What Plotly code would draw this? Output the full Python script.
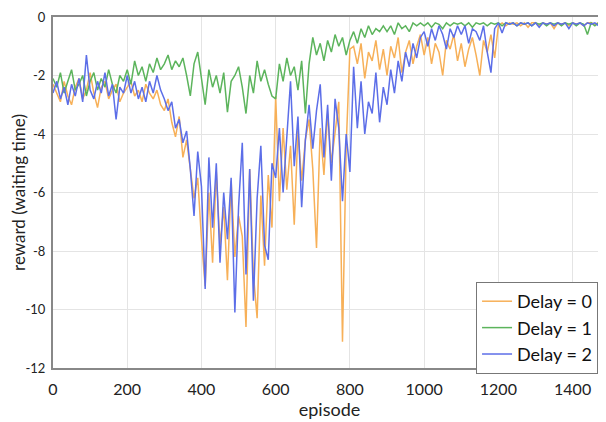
import plotly.graph_objects as go

episodes = list(range(0, 1500, 10))

delay0 = [
    -2.3, -2.6, -2.9, -2.2, -2.7, -3.0, -2.4, -2.1, -2.8, -2.5,
    -1.9, -2.6, -3.1, -2.4, -2.2, -2.8, -2.5, -2.3, -2.9, -2.6,
    -2.4, -2.2, -2.7, -2.5, -2.9, -2.3, -2.6, -2.8, -2.5, -3.0,
    -3.2, -2.8, -3.6, -4.1, -3.4, -4.8, -4.2, -5.3, -6.2, -5.5,
    -7.6, -9.2, -6.0, -8.4, -5.3, -7.8, -6.5, -9.0, -5.6, -8.2,
    -6.8, -7.5, -10.6, -5.2, -8.8, -10.3, -6.1, -8.5, -5.4, -7.2,
    -2.7, -6.3, -3.8, -5.9, -4.4, -7.1, -3.9, -5.6, -4.2, -3.5,
    -5.2, -7.9, -3.8, -5.4, -3.3, -5.0, -3.9, -2.9, -11.1, -4.4,
    -1.1, -1.0, -1.6, -0.9, -2.1, -1.2, -1.5, -0.8, -1.8, -1.1,
    -2.0, -1.0, -1.4, -0.7, -1.9, -1.2, -0.8, -1.6, -1.0, -0.6,
    -1.3, -0.7, -1.6, -0.9, -1.2, -2.0, -0.8, -1.1, -0.6, -1.5,
    -0.9, -1.7, -1.1, -0.7, -1.3, -2.0, -0.8, -1.2, -0.6, -1.4,
    -0.3, -0.2, -0.3, -0.2, -0.25, -0.2, -0.3, -0.2, -0.35, -0.2,
    -0.2, -0.3, -0.2, -0.25, -0.2, -0.4, -0.2, -0.25, -0.2, -0.3,
    -0.2, -0.25, -0.2, -0.3, -0.2, -0.2, -0.25, -0.2, -0.3, -0.2,
]

delay1 = [
    -2.1, -2.4, -1.9, -2.6, -2.2, -1.8, -2.5, -2.3, -2.0, -2.7,
    -2.2, -1.9, -2.5, -2.1, -2.4, -1.8, -2.3, -2.6, -2.0, -2.2,
    -1.8, -2.3, -1.5, -2.0, -1.7, -2.2, -1.6, -1.9, -1.4, -1.8,
    -1.6, -1.3, -1.8, -1.5, -1.7, -1.4, -2.0, -2.7, -1.6, -1.2,
    -2.1, -3.0, -1.8, -2.4, -2.0, -2.6, -1.9, -3.25, -2.2, -2.0,
    -1.7, -2.4, -3.3, -2.0, -2.6, -1.5, -2.2, -1.8, -2.3, -2.7,
    -2.8, -1.6, -2.2, -1.4, -2.0, -1.7, -2.5, -1.5, -3.3, -1.6,
    -0.7, -1.3, -0.9, -1.5, -0.8, -1.2, -0.6, -1.0, -0.7, -1.3,
    -0.8, -0.5, -0.9, -0.4, -0.7, -0.3, -0.6, -0.4, -0.5, -0.3,
    -0.5, -0.3, -0.6, -0.2, -0.4, -0.3, -0.5, -0.2, -0.3, -0.2,
    -0.3, -0.2, -0.35, -0.2, -0.25, -0.4, -0.2, -0.3, -0.2, -0.25,
    -0.2, -0.3, -0.2, -0.35, -0.2, -0.25, -0.2, -0.3, -0.2, -0.25,
    -0.2, -0.3, -0.2, -0.25, -0.2, -0.3, -0.2, -0.25, -0.2, -0.3,
    -0.2, -0.25, -0.2, -0.3, -0.2, -0.25, -0.2, -0.3, -0.2, -0.25,
    -0.2, -0.3, -0.2, -0.25, -0.6, -0.2, -0.3, -0.2, -0.25, -0.2,
]

delay2 = [
    -2.6, -2.2, -2.8, -2.4, -3.0, -2.3, -2.7, -2.1, -2.9, -1.3,
    -2.5, -2.8, -2.2, -2.6, -1.9, -2.7, -2.3, -3.5, -2.4, -2.6,
    -2.0, -2.6, -2.2, -2.8, -2.4, -2.9, -2.2, -2.6, -2.0, -2.5,
    -2.8, -3.2, -2.9, -3.8, -3.5, -4.3, -3.9, -5.2, -6.8, -4.6,
    -5.8, -9.3, -4.8, -7.2, -5.0, -8.4, -6.0, -7.6, -5.5, -10.1,
    -6.5, -4.3, -8.8, -5.2, -9.7, -6.2, -4.4, -7.8, -8.3, -5.0,
    -5.5, -3.8, -6.0, -4.0, -2.2, -5.1, -3.4, -6.5, -4.2, -3.0,
    -4.5, -3.2, -2.3, -4.8, -3.0, -5.6, -2.8, -3.8, -6.3, -4.0,
    -5.3, -1.7, -3.8, -2.2, -4.0, -2.9, -3.3, -1.9, -3.6, -2.4,
    -3.0, -1.8, -2.6, -1.5, -2.2, -1.2, -1.7, -0.9, -1.4, -0.7,
    -0.5, -1.0, -0.4, -0.8, -0.3, -0.6, -1.1, -0.4, -0.7, -0.3,
    -0.6, -0.3, -0.9, -0.4, -0.5, -0.8, -0.3, -1.2, -1.9, -0.4,
    -0.2, -0.55, -0.2, -0.25, -0.2, -0.3, -0.2, -0.25, -0.2, -0.3,
    -0.2, -0.35, -0.2, -0.25, -0.2, -0.3, -0.2, -0.25, -0.2, -0.4,
    -0.2, -0.25, -0.2, -0.3, -0.2, -0.25, -0.2, -0.3, -0.2, -0.25,
]

series_names = ["Delay = 0", "Delay = 1", "Delay = 2"]
series_colors = ["rgb(247,176,88)", "rgb(92,180,92)", "rgb(92,110,232)"]

x_ticks = [0, 200, 400, 600, 800, 1000, 1200, 1400]
y_ticks = [0, -2, -4, -6, -8, -10, -12]
y_tick_labels = ["0", "-2", "-4", "-6", "-8", "-10", "-12"]

fig = go.Figure()
for name, ys, col in zip(series_names, [delay0, delay1, delay2], series_colors):
    fig.add_trace(go.Scatter(x=episodes, y=ys, mode="lines", name=name,
                             line=dict(color=col, width=1.5)))

font_family = "Lato, 'Open Sans', sans-serif"
fig.update_layout(
    width=598, height=414,
    margin=dict(l=45, r=0, t=9, b=54, autoexpand=False),
    paper_bgcolor="white", plot_bgcolor="white",
    font=dict(family=font_family, color="#222"),
    showlegend=True,
    legend=dict(x=0.765, y=0.245, xanchor="left", yanchor="top",
                bordercolor="#777", borderwidth=1, bgcolor="white",
                font=dict(size=18, family=font_family, color="#111"),
                itemwidth=30, tracegroupgap=0),
)
fig.update_xaxes(range=[0, 1490], tickvals=x_ticks, showgrid=True, gridcolor="#e4e4e4",
                 showline=True, linecolor="#888", linewidth=2, mirror=True,
                 ticks="", tickfont=dict(size=16), zeroline=False, automargin=False,
                 ticklabelstandoff=6,
                 title=dict(text="episode", font=dict(size=18), standoff=0))
fig.update_yaxes(range=[-12, 0], tickvals=y_ticks, ticktext=y_tick_labels, showgrid=True,
                 gridcolor="#e4e4e4", showline=True, linecolor="#888", linewidth=2,
                 ticks="", tickfont=dict(size=13), zeroline=False, automargin=False,
                 ticklabelstandoff=3,
                 title=dict(text="reward (waiting time)", font=dict(size=17), standoff=2))

fig.write_html("out.html")
